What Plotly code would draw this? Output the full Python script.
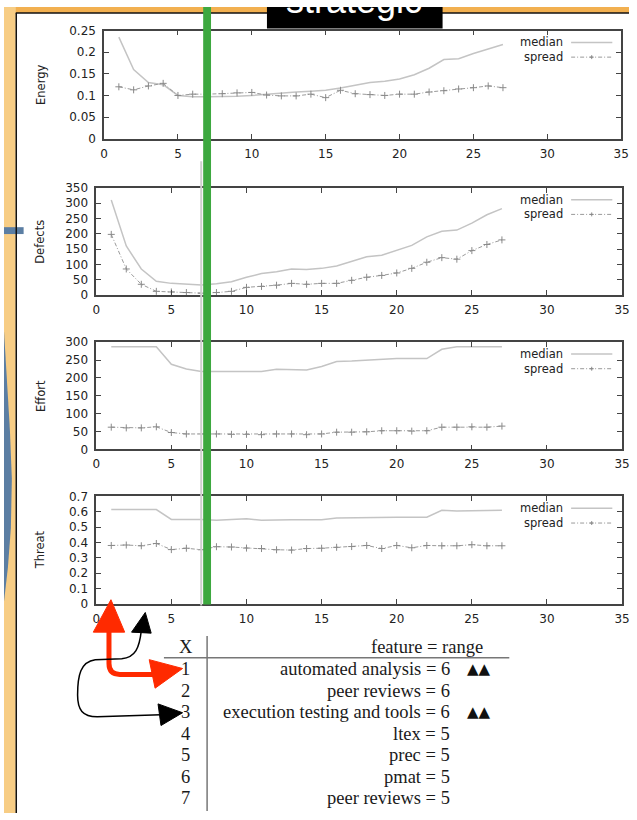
import plotly.graph_objects as go

W, H = 637, 820

# ---------------- data ----------------
x_vals = list(range(1, 28))

energy_median = [0.235, 0.160, 0.130, 0.125, 0.100, 0.097, 0.097, 0.097, 0.098, 0.100,
                 0.103, 0.105, 0.108, 0.110, 0.112, 0.117, 0.123, 0.130, 0.133, 0.138,
                 0.148, 0.163, 0.183, 0.185, 0.197, 0.207, 0.218]
energy_spread = [0.120, 0.113, 0.122, 0.128, 0.100, 0.103, 0.103, 0.104, 0.106, 0.107,
                 0.101, 0.099, 0.099, 0.103, 0.095, 0.112, 0.104, 0.102, 0.100, 0.103,
                 0.103, 0.108, 0.111, 0.115, 0.118, 0.122, 0.118]

defects_median = [310, 160, 85, 45, 38, 35, 33, 37, 43, 58, 70, 76, 85, 83, 87, 95, 110,
                  125, 130, 145, 162, 190, 208, 212, 235, 262, 282]
defects_spread = [198, 85, 35, 12, 10, 8, 6, 8, 12, 25, 28, 32, 38, 35, 38, 38, 48, 58,
                  64, 72, 87, 107, 122, 117, 145, 165, 180]

effort_median = [287, 287, 287, 287, 238, 225, 218, 217, 218, 218, 218, 224, 224, 222,
                 232, 246, 247, 249, 253, 254, 254, 254, 280, 287, 287, 287, 287]
effort_spread = [62, 60, 60, 63, 47, 43, 43, 43, 42, 42, 41, 43, 43, 41, 43, 48, 48, 49,
                 52, 52, 51, 52, 62, 62, 63, 62, 65]

threat_median = [0.615, 0.615, 0.615, 0.615, 0.550, 0.550, 0.550, 0.545, 0.550, 0.555,
                 0.545, 0.548, 0.548, 0.548, 0.548, 0.560, 0.562, 0.563, 0.565, 0.565,
                 0.565, 0.565, 0.610, 0.605, 0.607, 0.610, 0.610]
threat_spread = [0.380, 0.383, 0.378, 0.393, 0.353, 0.362, 0.352, 0.372, 0.370, 0.363,
                 0.360, 0.352, 0.350, 0.360, 0.362, 0.368, 0.373, 0.380, 0.360, 0.380,
                 0.365, 0.380, 0.378, 0.378, 0.385, 0.378, 0.378]

panel_names = ["Energy", "Defects", "Effort", "Threat"]
legend_labels = ["median", "spread"]

table_header = ["X", "feature = range"]
table_x = [1, 2, 3, 4, 5, 6, 7]
table_features = ["automated analysis = 6", "peer reviews = 6",
                  "execution testing and tools = 6", "ltex = 5", "prec = 5",
                  "pmat = 5", "peer reviews = 5"]
table_marks = ["▲▲", "", "▲▲", "", "", "", ""]
banner_text = "strategic"

# ---------------- layout helpers ----------------
def px(x):
    return x / W


def py(y):
    return 1 - y / H


def path(points, close=False):
    s = "M " + " L ".join(f"{px(a):.5f},{py(b):.5f}" for a, b in points)
    return s + (" Z" if close else "")


def note(x, y, text, font, xanchor="center", yanchor="middle", **kw):
    return dict(xref="paper", yref="paper", x=px(x), y=py(y), text=text, showarrow=False,
                xanchor=xanchor, yanchor=yanchor, font=font, **kw)


panels = [
    dict(med=energy_median, spr=energy_spread, yr=[0, 0.25], dt=0.05, left=102, right=629, top=24, bottom=134),
    dict(med=defects_median, spr=defects_spread, yr=[0, 350], dt=50, left=94, right=630, top=184, bottom=293),
    dict(med=effort_median, spr=effort_spread, yr=[0, 300], dt=50, left=94, right=630, top=341, bottom=450),
    dict(med=threat_median, spr=threat_spread, yr=[0, 0.7], dt=0.1, left=94, right=630, top=498, bottom=607),
]

tick_font = dict(family="DejaVu Sans", size=12, color="#222")
sans = dict(family="DejaVu Sans", size=11.5, color="#222")
fig = go.Figure()
shapes = []
annotations = []

# background decorations (slide)
shapes.append(dict(type="rect", xref="paper", yref="paper", x0=px(0), x1=px(W), y0=py(0), y1=py(6),
                   fillcolor="#f2b050", line=dict(width=0), layer="below"))
shapes.append(dict(type="rect", xref="paper", yref="paper", x0=px(0), x1=px(12), y0=py(0), y1=py(H),
                   fillcolor="#f7cd85", line=dict(width=0), layer="below"))
shapes.append(dict(type="path", xref="paper", yref="paper",
                   path=path([(0, 330), (3, 380), (6, 430), (8, 480), (7, 530), (4, 570), (0, 605)], close=True),
                   fillcolor="#5b7ea3", line=dict(width=0), layer="below"))
shapes.append(dict(type="rect", xref="paper", yref="paper", x0=px(0), x1=px(20), y0=py(224), y1=py(231),
                   fillcolor="#5b7ea3", line=dict(width=0), layer="above"))
shapes.append(dict(type="line", xref="paper", yref="paper", x0=px(12.5), x1=px(12.5), y0=py(6), y1=py(H),
                   line=dict(color="#111", width=1.5), layer="above"))
shapes.append(dict(type="line", xref="paper", yref="paper", x0=px(12), x1=px(W), y0=py(6), y1=py(6),
                   line=dict(color="#111", width=1.5), layer="above"))

for i, p in enumerate(panels):
    n = "" if i == 0 else str(i + 1)
    xa, ya = "x" + n, "y" + n
    fig.add_trace(go.Scatter(x=x_vals, y=p["med"], xaxis=xa, yaxis=ya, mode="lines",
                             line=dict(color="#c4c4c4", width=1.5), showlegend=False, hoverinfo="skip"))
    fig.add_trace(go.Scatter(x=x_vals, y=p["spr"], xaxis=xa, yaxis=ya, mode="lines+markers",
                             line=dict(color="#9a9a9a", width=1, dash="4px,2px,1px,2px"),
                             marker=dict(symbol="cross-thin", size=5, line=dict(color="#8a8a8a", width=1)),
                             showlegend=False, hoverinfo="skip"))
    common = dict(ticks="inside", ticklen=5, tickcolor="#444", showline=True, linecolor="#444",
                  linewidth=1.5, mirror="ticks", showgrid=False, zeroline=False, tickfont=tick_font)
    fig.update_layout(**{
        "xaxis" + n: dict(domain=[px(p["left"]), px(p["right"])], range=[0, 35], dtick=5, tick0=0,
                          anchor=ya, ticklabelstandoff=3, **common),
        "yaxis" + n: dict(domain=[py(p["bottom"]), py(p["top"])], range=p["yr"], dtick=p["dt"], tick0=0,
                          anchor=xa, ticklabelstandoff=4, **common),
    })
    # y title
    annotations.append(note(37, (p["top"] + p["bottom"]) / 2, panel_names[i], sans, textangle=-90))
    # gnuplot-style key
    for k, lab in enumerate(legend_labels):
        yy = p["top"] + 12 + 15 * k
        annotations.append(note(572, yy, lab, sans, xanchor="right"))
        if k == 0:
            shapes.append(dict(type="line", xref="paper", yref="paper", x0=px(578), x1=px(620),
                               y0=py(yy), y1=py(yy), line=dict(color="#c4c4c4", width=1.5)))
        else:
            shapes.append(dict(type="line", xref="paper", yref="paper", x0=px(578), x1=px(620),
                               y0=py(yy), y1=py(yy), line=dict(color="#9a9a9a", width=1, dash="4px,2px,1px,2px")))
            shapes.append(dict(type="line", xref="paper", yref="paper", x0=px(597), x1=px(601),
                               y0=py(yy), y1=py(yy), line=dict(color="#8a8a8a", width=1)))
            shapes.append(dict(type="line", xref="paper", yref="paper", x0=px(599), x1=px(599),
                               y0=py(yy - 2), y1=py(yy + 2), line=dict(color="#8a8a8a", width=1)))

# thin gray vertical line from original figure and green highlight
shapes.append(dict(type="line", xref="paper", yref="paper", x0=px(201), x1=px(201), y0=py(157), y1=py(609),
                   line=dict(color="#cfcfcf", width=2), layer="above"))
shapes.append(dict(type="rect", xref="paper", yref="paper", x0=px(203), x1=px(211), y0=py(0), y1=py(608),
                   fillcolor="#3da83f", line=dict(width=0), layer="above"))

# banner
shapes.append(dict(type="rect", xref="paper", yref="paper", x0=px(268), x1=px(447), y0=py(0), y1=py(22),
                   fillcolor="#000", line=dict(width=0), layer="above"))
annotations.append(note(357, 16, banner_text, dict(family="Liberation Sans", size=36, color="white"),
                        yanchor="bottom"))

# table
serif = dict(family="Liberation Serif", size=18.5, color="#1a1a1a")
annotations.append(note(185, 651, table_header[0], serif))
annotations.append(note(490, 651, table_header[1], serif, xanchor="right"))
shapes.append(dict(type="line", xref="paper", yref="paper", x0=px(163), x1=px(515), y0=py(662), y1=py(662),
                   line=dict(color="#777", width=1.5)))
shapes.append(dict(type="line", xref="paper", yref="paper", x0=px(207), x1=px(207), y0=py(640), y1=py(818),
                   line=dict(color="#777", width=1.5)))
for r, (xv, feat, mk) in enumerate(zip(table_x, table_features, table_marks)):
    yy = 674 + 21.8 * r
    annotations.append(note(185, yy, str(xv), serif))
    annotations.append(note(457, yy, feat, serif, xanchor="right"))
    if mk:
        annotations.append(note(470, yy, mk, dict(family="DejaVu Sans", size=15, color="#111"),
                                xanchor="left"))

# arrows (annotation decorations)
red = "#ff2a00"
shapes.append(dict(type="path", xref="paper", yref="paper",
                   path=f"M {px(107):.5f},{py(632):.5f} L {px(107):.5f},{py(668):.5f} "
                        f"Q {px(107):.5f},{py(679):.5f} {px(118):.5f},{py(679):.5f} L {px(152):.5f},{py(679):.5f}",
                   line=dict(color=red, width=5), layer="above"))
shapes.append(dict(type="path", xref="paper", yref="paper",
                   path=path([(109, 603), (91, 636), (123, 636)], close=True),
                   fillcolor=red, line=dict(color=red, width=1), layer="above"))
shapes.append(dict(type="path", xref="paper", yref="paper",
                   path=path([(182, 673), (148, 664), (154, 693)], close=True),
                   fillcolor=red, line=dict(color=red, width=1), layer="above"))
shapes.append(dict(type="path", xref="paper", yref="paper",
                   path=f"M {px(140):.5f},{py(634):.5f} C {px(138):.5f},{py(652):.5f} {px(134):.5f},{py(662):.5f} {px(120):.5f},{py(663):.5f} "
                        f"L {px(93):.5f},{py(664):.5f} C {px(78):.5f},{py(666):.5f} {px(75):.5f},{py(680):.5f} {px(75):.5f},{py(700):.5f} "
                        f"C {px(75):.5f},{py(715):.5f} {px(80):.5f},{py(722):.5f} {px(95):.5f},{py(722):.5f} L {px(160):.5f},{py(720):.5f}",
                   line=dict(color="#000", width=1.5), layer="above"))
shapes.append(dict(type="path", xref="paper", yref="paper",
                   path=path([(144, 616), (130, 636), (150, 637)], close=True),
                   fillcolor="#000", line=dict(color="#000", width=1), layer="above"))
shapes.append(dict(type="path", xref="paper", yref="paper",
                   path=path([(182, 718), (157, 709), (160, 731)], close=True),
                   fillcolor="#000", line=dict(color="#000", width=1), layer="above"))

fig.update_layout(width=W, height=H, margin=dict(l=0, r=0, t=0, b=0),
                  paper_bgcolor="white", plot_bgcolor="rgba(0,0,0,0)",
                  shapes=shapes, annotations=annotations, showlegend=False)

fig.write_html("out.html")
